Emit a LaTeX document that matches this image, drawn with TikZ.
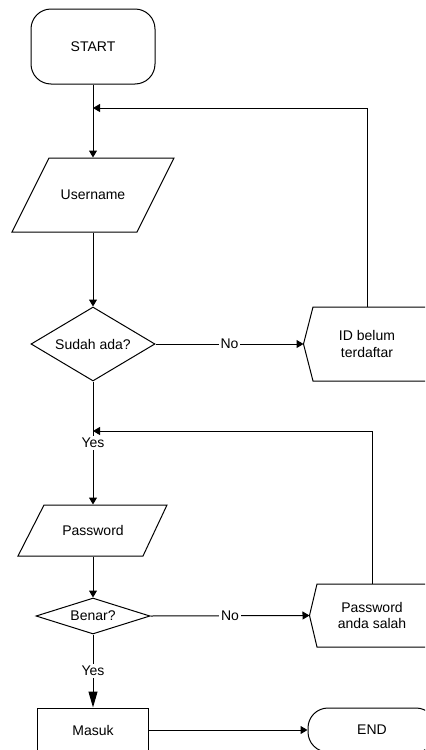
\documentclass[tikz,border=0pt]{standalone}
\usepackage{fontspec}
\setmainfont{Liberation Sans}
\usetikzlibrary{arrows.meta,shapes.geometric}
\def\px{0.75pt}
\begin{document}
\begin{tikzpicture}[x=0.75pt,y=-0.75pt,
  line width=0.75pt,
  every node/.style={font=\fontsize{10.5}{12.6}\selectfont},
  >={Triangle[length=5.25pt,width=6pt]},
  bigtip/.style={-{Triangle[length=12pt,width=6.75pt]}},
  edgelabel/.style={fill=white,inner sep=1.5pt},
  textbox/.style={draw=none,inner sep=0pt,align=center},
  decision/.style={diamond,draw,inner sep=0pt},
  terminal/.style={draw,rounded corners=15pt,inner sep=0pt},
  process/.style={draw,inner sep=0pt},
]
\useasboundingbox (0,0) rectangle (425,750);
\clip (0,0) rectangle (425,750);

% start terminal
\node[terminal, minimum width=124*\px, minimum height=75*\px] (start) at (93,46.5) {START};

% username input
\node[textbox, minimum width=125*\px, minimum height=74*\px] (user) at (93,195) {Username};
\draw (49,158) -- (174,158) -- (137,232) -- (12,232) -- cycle;

% first decision
\node[decision, minimum width=124*\px, minimum height=74*\px, aspect=1.68] (sudah) at (93,344) {Sudah ada?};

% display: unknown id
\node[textbox, minimum width=126*\px, minimum height=74*\px] (idbox) at (367,344) {ID belum\\terdaftar};
\draw (idbox.west) -- (313,307) -- (440,307) to[out=0,in=90] (452,344)
      to[out=-90,in=0] (440,381) -- (313,381) -- cycle;

% password input
\node[textbox, minimum width=123*\px, minimum height=51*\px] (pass) at (93,530.5) {Password};
\draw (44,505) -- (167,505) -- (143,556) -- (18,556) -- cycle;

% second decision
\node[decision, minimum width=114*\px, minimum height=36*\px, aspect=3.17] (benar) at (93,616) {Benar?};

% display: wrong password
\node[textbox, minimum width=124*\px, minimum height=63*\px] (pwbox) at (372,615.5) {Password\\anda salah};
\draw (pwbox.west) -- (317,584) -- (440,584) to[out=0,in=90] (452,615.5)
      to[out=-90,in=0] (440,647) -- (317,647) -- cycle;

% process and end
\node[process, minimum width=111*\px, minimum height=44*\px] (masuk) at (93,730) {Masuk};
\node[terminal, minimum width=128*\px, minimum height=44*\px] (end) at (372,730) {END};

% junctions on the main line
\coordinate (j1) at (93,108);
\coordinate (j2) at (93,431);

% connectors
\draw[->] (start) -- (user);
\draw[->] (user) -- (sudah);
\draw[->] (sudah.east) -- node[edgelabel] {No} (idbox.west);
\draw[->] (idbox.north) |- (j1);
\draw[->] (sudah.south) -- node[edgelabel] {Yes} (pass.north);
\draw[->] (pwbox.north) |- (j2);
\draw[->] (pass.south) -- (benar.north);
\draw[->] (benar.east) -- node[edgelabel] {No} (pwbox.west);
\draw[bigtip] (benar.south) -- node[edgelabel] {Yes} (masuk.north);
\draw[->] (masuk.east) -- (end.west);
\end{tikzpicture}
\end{document}
